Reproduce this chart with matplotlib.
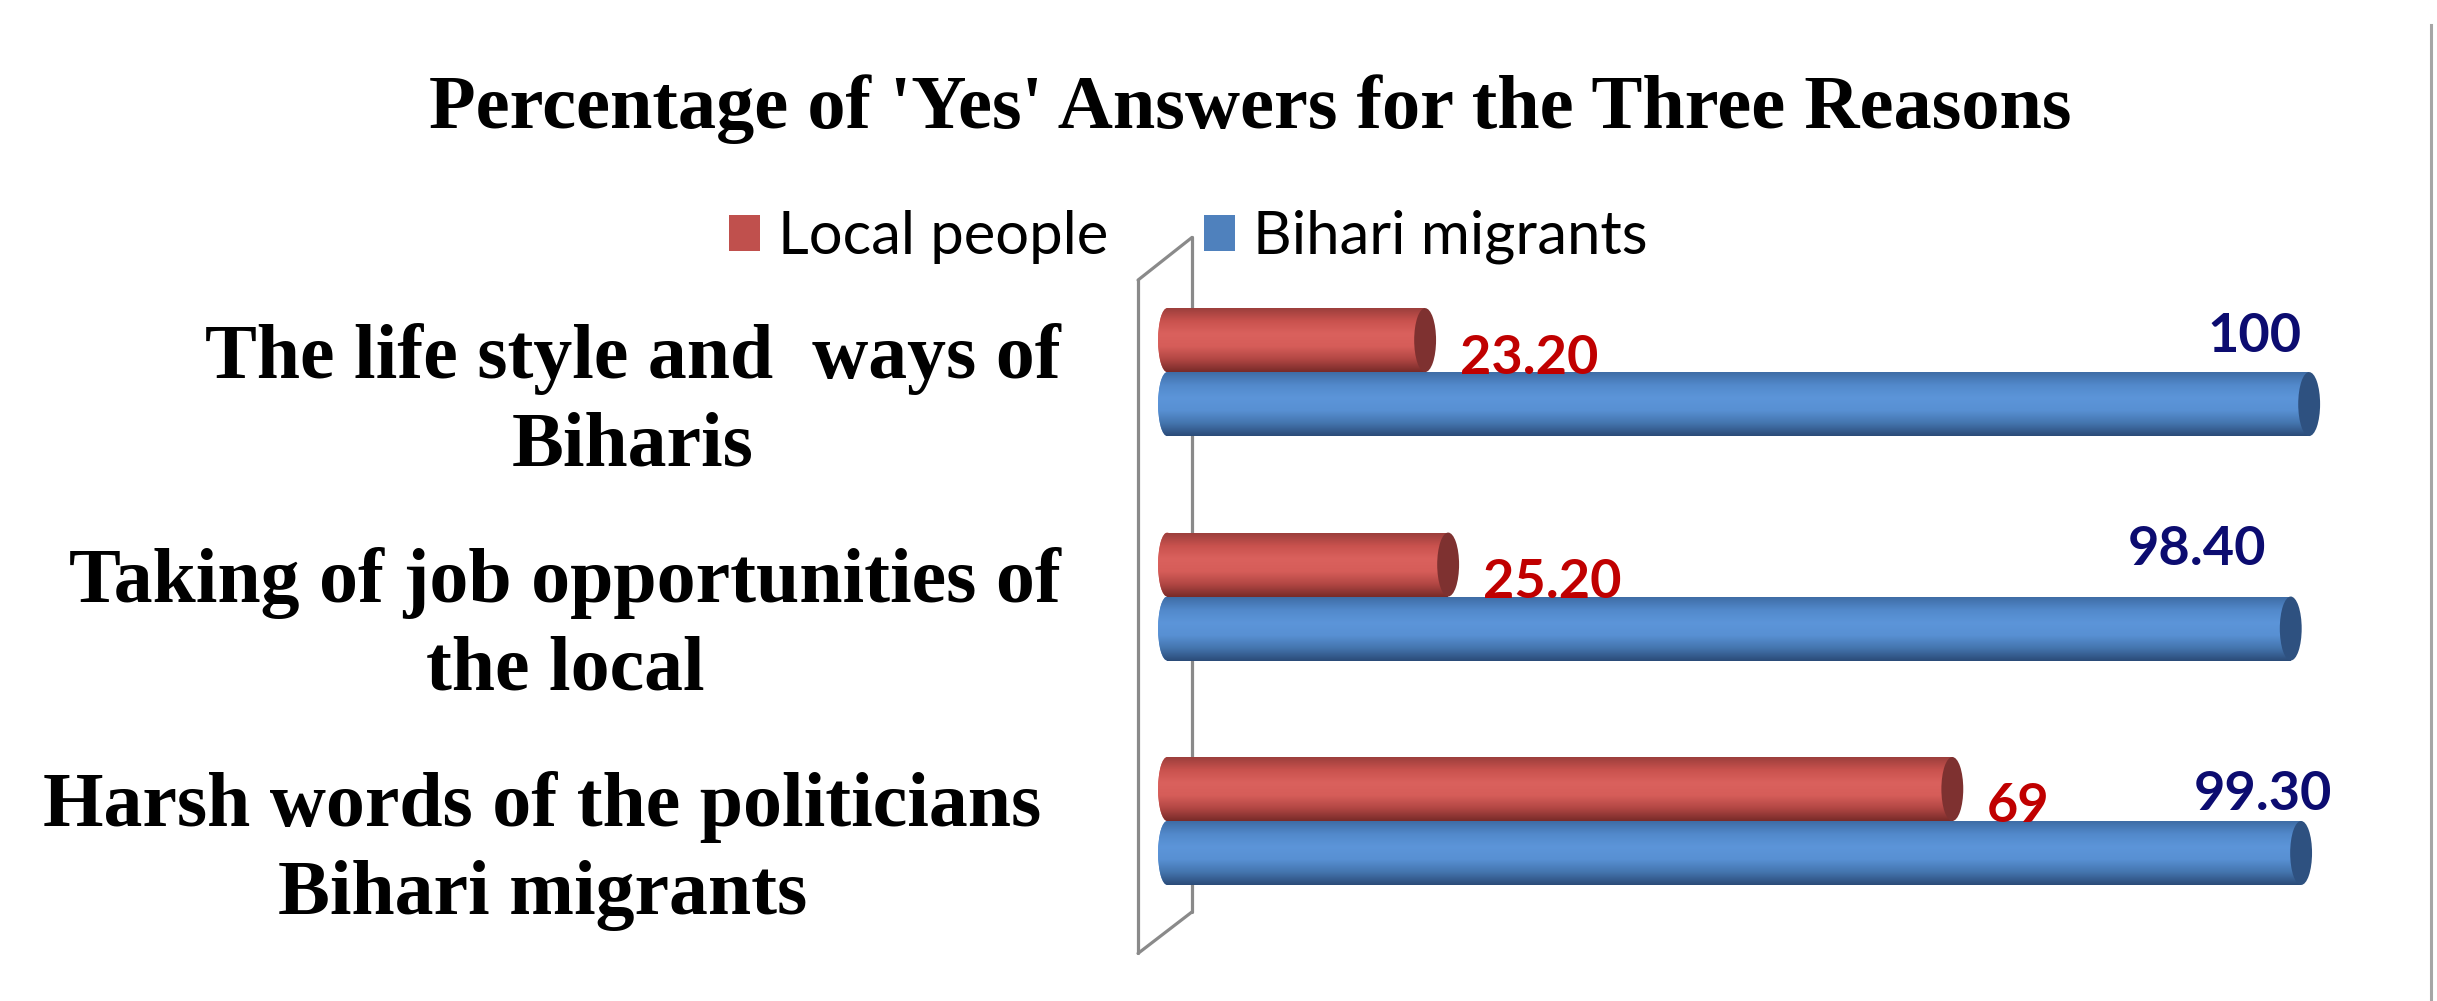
import numpy as np
import matplotlib
matplotlib.use("Agg")
import matplotlib.pyplot as plt
from matplotlib.colors import LinearSegmentedColormap
from matplotlib.patches import Ellipse, Patch

# ── data ──
categories = [
    "The life style and  ways of\nBiharis",
    "Taking of job opportunities of\nthe local",
    "Harsh words of the politicians \nBihari migrants ",
]
local_people = [23.20, 25.20, 69]
bihari_migrants = [100, 98.40, 99.30]
local_labels = ["23.20", "25.20", "69"]
bihari_labels = ["100", "98.40", "99.30"]
series_names = ["Local people", "Bihari migrants"]

# label nudges (Excel placed the blue labels a bit unevenly)
blue_dx = [-0.7, -2.1, 2.7]
blue_dy = [-0.30, -0.35, -0.26]

RED_CMAP = LinearSegmentedColormap.from_list(
    "red_cyl", ["#9C3F3C", "#C9524E", "#DA615D", "#D65D59", "#B24744", "#782B29"])
BLUE_CMAP = LinearSegmentedColormap.from_list(
    "blue_cyl", ["#3F6DA6", "#5289CB", "#5C95D9", "#5890D3", "#4475AE", "#2B4B78"])

SERIF = "Liberation Serif"
SANS = "Lato"

fig = plt.figure(figsize=(24.37, 10.01), dpi=100)
ax = fig.add_axes([0.4667, 0.0453, 0.5328, 0.722])

bar_h = 0.285
grad = np.linspace(0, 1, 200).reshape(-1, 1)


def cylinder(ax, y, w, cmap, cap_color):
    r = 0.8  # half-width of the end ellipses, data units
    body = ax.barh(y, w - r, left=r, height=bar_h, color=cmap(0.5), linewidth=0, zorder=3)[0]
    left_end = Ellipse((r, y), width=2 * r, height=bar_h, facecolor=cmap(0.5),
                       edgecolor="none", zorder=3)
    ax.add_patch(left_end)
    for clip in (body, left_end):
        im = ax.imshow(grad, extent=[0, w, y + bar_h / 2, y - bar_h / 2],
                       aspect="auto", cmap=cmap, zorder=3.1, interpolation="bilinear")
        im.set_clip_path(clip)
    cap = Ellipse((w, y), width=2 * r + 0.3, height=bar_h, facecolor=cap_color,
                  edgecolor="none", zorder=3.2)
    ax.add_patch(cap)


# ── 3D side wall ──
wall_kw = dict(color="#8A8A8A", lw=2.3, zorder=1, clip_on=False, solid_capstyle="round")
ax.plot([-1.74, -1.74], [-0.41, 2.59], **wall_kw)
ax.plot([2.95, 2.95], [-0.60, 2.405], **wall_kw)
ax.plot([-1.74, 2.95], [-0.41, -0.60], **wall_kw)
ax.plot([-1.74, 2.95], [2.59, 2.405], **wall_kw)

for i in range(len(categories)):
    y_red = i - bar_h / 2
    y_blue = i + bar_h / 2
    cylinder(ax, y_red, local_people[i], RED_CMAP, "#7E3130")
    cylinder(ax, y_blue, bihari_migrants[i], BLUE_CMAP, "#2E5180")
    ax.text(local_people[i] + 3.0, y_red + 0.08, local_labels[i], ha="left", va="center",
            fontsize=39, fontweight="bold", color="#C00000", family=SANS, zorder=5)
    ax.text(bihari_migrants[i] + blue_dx[i], y_blue + blue_dy[i], bihari_labels[i],
            ha="right", va="center", fontsize=39, fontweight="bold", color="#0C0C70",
            family=SANS, zorder=5)

ax.set_xlim(-1.8, 111)
ax.set_ylim(2.6, -0.62)
ax.set_xticks([])
ax.set_yticks([i + 0.06 for i in range(len(categories))], categories,
              fontsize=56, fontweight="bold", family=SERIF, multialignment="center",
              linespacing=1.31)
ax.tick_params(axis="y", length=0, pad=55)
for s in ax.spines.values():
    s.set_visible(False)

fig.text(0.513, 0.872, "Percentage of 'Yes' Answers for the Three Reasons", ha="center",
         va="baseline", fontsize=55, fontweight="bold", family=SERIF)

handles = [Patch(facecolor="#C0504D", edgecolor="none"), Patch(facecolor="#4F81BD", edgecolor="none")]
fig.legend(handles, series_names, loc="center", bbox_to_anchor=(0.4876, 0.763), ncol=2,
           frameon=False, prop={"family": SANS, "size": 43}, handlelength=0.52,
           handleheight=0.55, handletextpad=0.3, columnspacing=1.6)

# chart-area border at right edge
fig.add_artist(plt.Line2D([0.9975, 0.9975], [0.0, 0.975], color="#A6A6A6", lw=2.2))

fig.savefig("out.png", dpi=100, facecolor="white")
